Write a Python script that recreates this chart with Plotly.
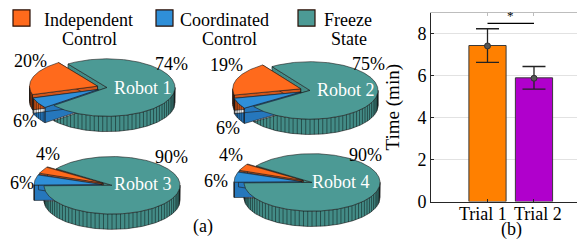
import numpy as np
import plotly.graph_objects as go

# ---------------- data ----------------
modes = [["Independent", "Control"], ["Coordinated", "Control"], ["Freeze", "State"]]
robots = ["Robot 1", "Robot 2", "Robot 3", "Robot 4"]
robot1_pct = [20, 6, 74]
robot2_pct = [19, 6, 75]
robot3_pct = [4, 6, 90]
robot4_pct = [4, 6, 90]
trials = ["Trial 1", "Trial 2"]
time_mean = [7.44, 5.90]
time_err = [0.80, 0.54]
time_points = [7.42, 5.88]
significance = "*"
sig_level = 8.5
y_ticks = [0, 2, 4, 6, 8]

# ---------------- style ----------------
FONT = "Liberation Serif, Times New Roman, serif"
top_colors = ["#FF6A1C", "#2F8FD8", "#4C9A95"]
wall_colors = ["#D2561A", "#2677BC", "#438C87"]
bar_colors = ["#FF8000", "#B000CC"]
EDGE = "#1c1c1c"

RX, RY, H, EXPL = 68, 30, 16, 10
pie_centers = [(99, 83), (302, 86), (104, 185), (304, 182)]
pie_start = [125, 124, 145, 145]
# label offsets relative to pie centre: (orange, blue, teal, robot name)
pie_label_off = [
    [(-77, -28), (-82, 35), (64, -25), (36, 0)],
    [(-84, -27), (-82, 39), (58, -28), (36, 0)],
    [(-64, -33), (-90, -2), (59, -30), (31, -1)],
    [(-81, -29), (-96, -1), (53, -29), (29, 0)],
]


def P(cx, cy, t, dz=0.0):
    r = np.radians(t)
    return cx + RX * np.cos(r), cy - RY * np.sin(r) + dz


def pie_traces(cx, cy, pcts, t0):
    bodies, hatches, tops = [], [], []
    a = t0
    for i, p in enumerate(pcts):
        a1, a2 = a, a + 360.0 * p / 100.0
        a = a2
        mid = (a1 + a2) / 2
        if i < 2:
            ox = EXPL * np.cos(np.radians(mid))
            oy = -EXPL * RY / RX * np.sin(np.radians(mid))
        else:
            ox = oy = 0.0
        sx, sy = cx + ox, cy + oy
        ts = np.linspace(a1, a2, max(int(abs(a2 - a1)), 2) + 1)
        ax, ay = P(sx, sy, ts)
        topx = [sx] + list(ax) + [sx]
        topy = [sy] + list(ay) + [sy]
        bx, by = [], []
        for t in (a1, a2):
            ex, ey = P(sx, sy, t)
            bx += [sx, ex, ex, sx, sx, None]
            by += [sy, ey, ey + H, sy + H, sy, None]
        lo = int(np.floor(a1 / 180)) + 1
        hi = int(np.ceil(a2 / 180))
        bounds = [a1] + [k * 180 for k in range(lo, hi)] + [a2]
        hx_, hy_ = [], []
        for b1, b2 in zip(bounds[:-1], bounds[1:]):
            if np.sin(np.radians((b1 + b2) / 2)) < 0:
                tt = np.linspace(b1, b2, max(int(b2 - b1), 2) + 1)
                fx, fy = P(sx, sy, tt)
                bx += list(fx) + list(fx[::-1]) + [fx[0], None]
                by += list(fy) + list(fy[::-1] + H) + [fy[0], None]
                for k in np.arange(np.ceil(b1 / 3.6), np.floor(b2 / 3.6) + 1):
                    qx, qy = P(sx, sy, k * 3.6)
                    hx_ += [qx, qx, None]
                    hy_ += [qy, qy + H, None]
        common = dict(xaxis="x2", yaxis="y2", mode="lines", hoverinfo="skip", showlegend=False)
        bodies.append(go.Scatter(x=bx, y=by, fill="toself", fillcolor=wall_colors[i],
                                 line=dict(color=EDGE, width=0.6), **common))
        hatches.append(go.Scatter(x=hx_, y=hy_, line=dict(color="rgba(0,0,0,0.55)", width=0.8), **common))
        tops.append(go.Scatter(x=topx, y=topy, fill="toself", fillcolor=top_colors[i],
                               line=dict(color=EDGE, width=0.6), **common))
    order = [2, 0, 1]
    out = []
    for i in order:
        out += [bodies[i], hatches[i]]
    for i in order:
        out.append(tops[i])
    return out


fig = go.Figure()
all_pcts = [robot1_pct, robot2_pct, robot3_pct, robot4_pct]
annotations = []


def txt(x, y, s, xref="x2", yref="y2", size=18, color="black", xshift=0):
    return dict(x=x, y=y, xref=xref, yref=yref, text=s, showarrow=False,
                xanchor="center", yanchor="middle", xshift=xshift,
                font=dict(family=FONT, size=size, color=color))


for k, pcts in enumerate(all_pcts):
    cx, cy = pie_centers[k]
    for tr in pie_traces(cx, cy, pcts, pie_start[k]):
        fig.add_trace(tr)
    offs = pie_label_off[k]
    for j in range(3):
        annotations.append(txt(cx + offs[j][0], cy + offs[j][1], f"{pcts[j]}%"))
    annotations.append(txt(cx + offs[3][0], cy + offs[3][1], robots[k], color="white"))

# ---------------- bar chart ----------------
xpos = [1, 2]
fig.add_trace(go.Bar(
    x=xpos, y=time_mean, width=0.8,
    marker=dict(color=bar_colors, line=dict(color="#3a3a3a", width=1)),
    error_y=dict(type="data", array=time_err, color="#222222", thickness=1.3, width=11.5),
    showlegend=False, hoverinfo="skip", xaxis="x", yaxis="y"))
fig.add_trace(go.Scatter(
    x=xpos, y=time_points, mode="markers",
    marker=dict(size=6, color="#555555", line=dict(color="#333333", width=1)),
    showlegend=False, hoverinfo="skip", xaxis="x", yaxis="y"))
fig.add_trace(go.Scatter(
    x=xpos, y=[sig_level, sig_level], mode="lines", line=dict(color="black", width=1.3),
    showlegend=False, hoverinfo="skip", xaxis="x", yaxis="y"))
annotations.append(dict(x=1.5, y=sig_level, xref="x", yref="y", text=significance,
                        showarrow=False, xanchor="center", yanchor="bottom", yshift=-2,
                        font=dict(family=FONT, size=13, color="black")))
# trial labels under the bars
for i, name in enumerate(trials):
    annotations.append(dict(x=xpos[i], y=0, xref="x", yref="y", text=name, showarrow=False,
                            xanchor="center", yanchor="top", yshift=0,
                            xshift=(-5 if i == 0 else 4),
                            font=dict(family=FONT, size=18, color="black")))
# invisible trace to activate mirror frame axes
fig.add_trace(go.Scatter(x=[1], y=[0], mode="markers", marker=dict(opacity=0),
                         showlegend=False, hoverinfo="skip", xaxis="x3", yaxis="y3"))

W, HGT = 585, 240
xr = [-0.215, 3.226]
fig.update_layout(
    width=W, height=HGT, margin=dict(l=0, r=0, t=0, b=0),
    paper_bgcolor="white", plot_bgcolor="white",
    font=dict(family=FONT, size=18, color="black"),
    xaxis=dict(domain=[423 / W, 583 / W], range=xr, tickvals=xpos, showticklabels=False,
               showline=True, linecolor="#262626", linewidth=1, ticks="inside", ticklen=3,
               tickcolor="#262626", showgrid=False, zeroline=False, fixedrange=True),
    yaxis=dict(domain=[1 - 202 / HGT, 1 - 5 / HGT], range=[0, 9], tickvals=y_ticks,
               showline=True, linecolor="#262626", linewidth=1, ticks="inside", ticklen=3,
               tickcolor="#262626", showgrid=True, gridcolor="#e2e2e2", zeroline=False,
               fixedrange=True, tickfont=dict(family=FONT, size=18),
               title=dict(text="Time (min)", standoff=12, font=dict(family=FONT, size=19))),
    xaxis3=dict(overlaying="x", side="top", range=xr, tickvals=xpos, showticklabels=False,
                showline=True, linecolor="#bdbdbd", ticks="inside", ticklen=3, tickcolor="#bdbdbd",
                showgrid=False, zeroline=False, fixedrange=True, anchor="y3"),
    yaxis3=dict(overlaying="y", side="right", range=[0, 9], showticklabels=False,
                showline=True, linecolor="#bdbdbd", ticks="", showgrid=False, zeroline=False,
                fixedrange=True, anchor="x3"),
    xaxis2=dict(domain=[0, 380 / W], range=[0, 380], visible=False, fixedrange=True),
    yaxis2=dict(domain=[0, 1], range=[HGT, 0], visible=False, fixedrange=True, anchor="x2"),
)

# legend (swatches + two-line labels)
legend_sw = [5, 148, 290]
legend_l1 = [80, 216, 340]
legend_l2 = [81, 221, 341]
shapes = []
for j in range(3):
    shapes.append(dict(type="rect", xref="paper", yref="paper",
                       x0=legend_sw[j] / W, x1=(legend_sw[j] + 17) / W,
                       y0=1 - 19 / HGT, y1=1 - 2 / HGT,
                       fillcolor=top_colors[j], line=dict(color="#2a0f05", width=1.2)))
    annotations.append(txt(legend_l1[j], 12, modes[j][0]))
    annotations.append(txt(legend_l2[j], 32, modes[j][1]))

annotations.append(txt(195, 228, "(a)"))
annotations.append(txt(503 / W, 1 - 231 / HGT, "(b)", xref="paper", yref="paper"))

fig.update_layout(annotations=annotations, shapes=shapes)
fig.write_html("out.html")
